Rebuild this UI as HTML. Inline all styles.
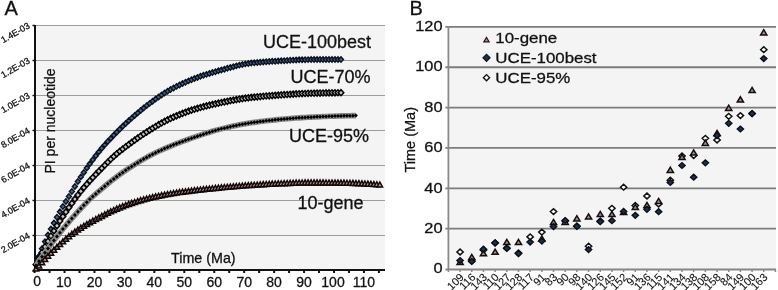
<!DOCTYPE html><html><head><meta charset="utf-8"><style>
html,body{margin:0;padding:0;background:#fff;width:778px;height:290px;overflow:hidden}
svg{display:block;will-change:transform}
text{font-family:"Liberation Sans", sans-serif;fill:#111;stroke:#111;stroke-width:0.28px}
</style></head><body>
<svg width="778" height="290" viewBox="0 0 778 290">
<rect width="778" height="290" fill="#fff"/>

<text x="4.6" y="15" font-size="20">A</text>
<rect x="35.5" y="25" width="349.5" height="245" fill="#f4f4f4"/>
<line x1="35" y1="25.5" x2="385" y2="25.5" stroke="#9c9c9c" stroke-width="1"/>
<line x1="35" y1="60.5" x2="385" y2="60.5" stroke="#9c9c9c" stroke-width="1"/>
<line x1="35" y1="95.5" x2="385" y2="95.5" stroke="#9c9c9c" stroke-width="1"/>
<line x1="35" y1="130.5" x2="385" y2="130.5" stroke="#9c9c9c" stroke-width="1"/>
<line x1="35" y1="165.5" x2="385" y2="165.5" stroke="#9c9c9c" stroke-width="1"/>
<line x1="35" y1="200.5" x2="385" y2="200.5" stroke="#9c9c9c" stroke-width="1"/>
<line x1="35" y1="235.5" x2="385" y2="235.5" stroke="#9c9c9c" stroke-width="1"/>
<line x1="35" y1="25" x2="35" y2="271" stroke="#111" stroke-width="2"/>
<line x1="32.5" y1="25.5" x2="35" y2="25.5" stroke="#111" stroke-width="1.5"/>
<line x1="32.5" y1="60.5" x2="35" y2="60.5" stroke="#111" stroke-width="1.5"/>
<line x1="32.5" y1="95.5" x2="35" y2="95.5" stroke="#111" stroke-width="1.5"/>
<line x1="32.5" y1="130.5" x2="35" y2="130.5" stroke="#111" stroke-width="1.5"/>
<line x1="32.5" y1="165.5" x2="35" y2="165.5" stroke="#111" stroke-width="1.5"/>
<line x1="32.5" y1="200.5" x2="35" y2="200.5" stroke="#111" stroke-width="1.5"/>
<line x1="32.5" y1="235.5" x2="35" y2="235.5" stroke="#111" stroke-width="1.5"/>
<line x1="32.5" y1="270.5" x2="35" y2="270.5" stroke="#111" stroke-width="1.5"/>
<line x1="34" y1="270" x2="385" y2="270" stroke="#111" stroke-width="2"/>
<line x1="34.60" y1="270" x2="34.60" y2="273" stroke="#111" stroke-width="2"/>
<line x1="49.57" y1="270" x2="49.57" y2="273" stroke="#111" stroke-width="2"/>
<line x1="64.54" y1="270" x2="64.54" y2="273" stroke="#111" stroke-width="2"/>
<line x1="79.51" y1="270" x2="79.51" y2="273" stroke="#111" stroke-width="2"/>
<line x1="94.48" y1="270" x2="94.48" y2="273" stroke="#111" stroke-width="2"/>
<line x1="109.45" y1="270" x2="109.45" y2="273" stroke="#111" stroke-width="2"/>
<line x1="124.42" y1="270" x2="124.42" y2="273" stroke="#111" stroke-width="2"/>
<line x1="139.39" y1="270" x2="139.39" y2="273" stroke="#111" stroke-width="2"/>
<line x1="154.36" y1="270" x2="154.36" y2="273" stroke="#111" stroke-width="2"/>
<line x1="169.33" y1="270" x2="169.33" y2="273" stroke="#111" stroke-width="2"/>
<line x1="184.30" y1="270" x2="184.30" y2="273" stroke="#111" stroke-width="2"/>
<line x1="199.27" y1="270" x2="199.27" y2="273" stroke="#111" stroke-width="2"/>
<line x1="214.24" y1="270" x2="214.24" y2="273" stroke="#111" stroke-width="2"/>
<line x1="229.21" y1="270" x2="229.21" y2="273" stroke="#111" stroke-width="2"/>
<line x1="244.18" y1="270" x2="244.18" y2="273" stroke="#111" stroke-width="2"/>
<line x1="259.15" y1="270" x2="259.15" y2="273" stroke="#111" stroke-width="2"/>
<line x1="274.12" y1="270" x2="274.12" y2="273" stroke="#111" stroke-width="2"/>
<line x1="289.09" y1="270" x2="289.09" y2="273" stroke="#111" stroke-width="2"/>
<line x1="304.06" y1="270" x2="304.06" y2="273" stroke="#111" stroke-width="2"/>
<line x1="319.03" y1="270" x2="319.03" y2="273" stroke="#111" stroke-width="2"/>
<line x1="334.00" y1="270" x2="334.00" y2="273" stroke="#111" stroke-width="2"/>
<line x1="348.97" y1="270" x2="348.97" y2="273" stroke="#111" stroke-width="2"/>
<line x1="363.94" y1="270" x2="363.94" y2="273" stroke="#111" stroke-width="2"/>
<line x1="378.91" y1="270" x2="378.91" y2="273" stroke="#111" stroke-width="2"/>
<text x="0" y="0" font-size="9" text-anchor="end" transform="translate(30.5 27.5) rotate(-30)">1.4E-03</text>
<text x="0" y="0" font-size="9" text-anchor="end" transform="translate(30.5 62.5) rotate(-30)">1.2E-03</text>
<text x="0" y="0" font-size="9" text-anchor="end" transform="translate(30.5 97.5) rotate(-30)">1.0E-03</text>
<text x="0" y="0" font-size="9" text-anchor="end" transform="translate(30.5 132.5) rotate(-30)">8.0E-04</text>
<text x="0" y="0" font-size="9" text-anchor="end" transform="translate(30.5 167.5) rotate(-30)">6.0E-04</text>
<text x="0" y="0" font-size="9" text-anchor="end" transform="translate(30.5 202.5) rotate(-30)">4.0E-04</text>
<text x="0" y="0" font-size="9" text-anchor="end" transform="translate(30.5 237.5) rotate(-30)">2.0E-04</text>
<text x="37.10" y="285.5" font-size="14" text-anchor="middle">0</text>
<text x="63.74" y="287" font-size="14" text-anchor="middle">10</text>
<text x="94.48" y="287" font-size="14" text-anchor="middle">20</text>
<text x="124.42" y="287" font-size="14" text-anchor="middle">30</text>
<text x="154.36" y="287" font-size="14" text-anchor="middle">40</text>
<text x="184.30" y="287" font-size="14" text-anchor="middle">50</text>
<text x="214.24" y="287" font-size="14" text-anchor="middle">60</text>
<text x="244.18" y="287" font-size="14" text-anchor="middle">70</text>
<text x="274.12" y="287" font-size="14" text-anchor="middle">80</text>
<text x="304.06" y="287" font-size="14" text-anchor="middle">90</text>
<text x="333.00" y="287" font-size="14" text-anchor="middle">100</text>
<text x="363.94" y="287" font-size="14" text-anchor="middle">110</text>
<text x="0" y="0" font-size="14" transform="translate(55 173.5) rotate(-90)">PI per nucleotide</text>
<text x="171" y="262.5" font-size="14.3">Time (Ma)</text>
<g fill="#4a6688" stroke="#0a1220" stroke-width="1.4">
<path d="M33.50 264.64L36.00 261.94L38.50 264.64L36.00 267.34Z"/>
<path d="M36.49 256.26L38.99 253.56L41.49 256.26L38.99 258.96Z"/>
<path d="M39.48 248.63L41.98 245.93L44.48 248.63L41.98 251.33Z"/>
<path d="M42.47 241.61L44.97 238.91L47.47 241.61L44.97 244.31Z"/>
<path d="M45.46 235.09L47.96 232.39L50.46 235.09L47.96 237.79Z"/>
<path d="M48.45 228.99L50.95 226.29L53.45 228.99L50.95 231.69Z"/>
<path d="M51.44 223.06L53.94 220.36L56.44 223.06L53.94 225.76Z"/>
<path d="M54.43 217.28L56.93 214.58L59.43 217.28L56.93 219.98Z"/>
<path d="M57.42 211.74L59.92 209.04L62.42 211.74L59.92 214.44Z"/>
<path d="M60.41 206.51L62.91 203.81L65.41 206.51L62.91 209.21Z"/>
<path d="M63.40 201.49L65.90 198.79L68.40 201.49L65.90 204.19Z"/>
<path d="M66.39 196.55L68.89 193.85L71.39 196.55L68.89 199.25Z"/>
<path d="M69.38 191.54L71.88 188.84L74.38 191.54L71.88 194.24Z"/>
<path d="M72.37 186.52L74.87 183.82L77.37 186.52L74.87 189.22Z"/>
<path d="M75.36 181.59L77.86 178.89L80.36 181.59L77.86 184.29Z"/>
<path d="M78.35 176.89L80.85 174.19L83.35 176.89L80.85 179.59Z"/>
<path d="M81.34 172.40L83.84 169.70L86.34 172.40L83.84 175.10Z"/>
<path d="M84.33 168.06L86.83 165.36L89.33 168.06L86.83 170.76Z"/>
<path d="M87.32 163.85L89.82 161.15L92.32 163.85L89.82 166.55Z"/>
<path d="M90.31 159.73L92.81 157.03L95.31 159.73L92.81 162.43Z"/>
<path d="M93.30 155.71L95.80 153.01L98.30 155.71L95.80 158.41Z"/>
<path d="M96.29 151.88L98.79 149.18L101.29 151.88L98.79 154.58Z"/>
<path d="M99.28 148.29L101.78 145.59L104.28 148.29L101.78 150.99Z"/>
<path d="M102.27 144.87L104.77 142.17L107.27 144.87L104.77 147.57Z"/>
<path d="M105.26 141.58L107.76 138.88L110.26 141.58L107.76 144.28Z"/>
<path d="M108.25 138.40L110.75 135.70L113.25 138.40L110.75 141.10Z"/>
<path d="M111.24 135.29L113.74 132.59L116.24 135.29L113.74 137.99Z"/>
<path d="M114.23 132.24L116.73 129.54L119.23 132.24L116.73 134.94Z"/>
<path d="M117.22 129.26L119.72 126.56L122.22 129.26L119.72 131.96Z"/>
<path d="M120.21 126.35L122.71 123.65L125.21 126.35L122.71 129.05Z"/>
<path d="M123.20 123.52L125.70 120.82L128.20 123.52L125.70 126.22Z"/>
<path d="M126.19 120.78L128.69 118.08L131.19 120.78L128.69 123.48Z"/>
<path d="M129.18 118.11L131.68 115.41L134.18 118.11L131.68 120.81Z"/>
<path d="M132.17 115.49L134.67 112.79L137.17 115.49L134.67 118.19Z"/>
<path d="M135.16 112.93L137.66 110.23L140.16 112.93L137.66 115.63Z"/>
<path d="M138.15 110.43L140.65 107.73L143.15 110.43L140.65 113.13Z"/>
<path d="M141.14 107.99L143.64 105.29L146.14 107.99L143.64 110.69Z"/>
<path d="M144.13 105.64L146.63 102.94L149.13 105.64L146.63 108.34Z"/>
<path d="M147.12 103.38L149.62 100.68L152.12 103.38L149.62 106.08Z"/>
<path d="M150.11 101.19L152.61 98.49L155.11 101.19L152.61 103.89Z"/>
<path d="M153.10 99.04L155.60 96.34L158.10 99.04L155.60 101.74Z"/>
<path d="M156.09 96.94L158.59 94.24L161.09 96.94L158.59 99.64Z"/>
<path d="M159.08 94.92L161.58 92.22L164.08 94.92L161.58 97.62Z"/>
<path d="M162.07 93.00L164.57 90.30L167.07 93.00L164.57 95.70Z"/>
<path d="M165.06 91.18L167.56 88.48L170.06 91.18L167.56 93.88Z"/>
<path d="M168.05 89.50L170.55 86.80L173.05 89.50L170.55 92.20Z"/>
<path d="M171.04 87.91L173.54 85.21L176.04 87.91L173.54 90.61Z"/>
<path d="M174.03 86.38L176.53 83.68L179.03 86.38L176.53 89.08Z"/>
<path d="M177.02 84.91L179.52 82.21L182.02 84.91L179.52 87.61Z"/>
<path d="M180.01 83.51L182.51 80.81L185.01 83.51L182.51 86.21Z"/>
<path d="M183.00 82.16L185.50 79.46L188.00 82.16L185.50 84.86Z"/>
<path d="M185.99 80.88L188.49 78.18L190.99 80.88L188.49 83.58Z"/>
<path d="M188.98 79.66L191.48 76.96L193.98 79.66L191.48 82.36Z"/>
<path d="M191.97 78.50L194.47 75.80L196.97 78.50L194.47 81.20Z"/>
<path d="M194.96 77.40L197.46 74.70L199.96 77.40L197.46 80.10Z"/>
<path d="M197.95 76.34L200.45 73.64L202.95 76.34L200.45 79.04Z"/>
<path d="M200.94 75.34L203.44 72.64L205.94 75.34L203.44 78.04Z"/>
<path d="M203.93 74.37L206.43 71.67L208.93 74.37L206.43 77.07Z"/>
<path d="M206.92 73.44L209.42 70.74L211.92 73.44L209.42 76.14Z"/>
<path d="M209.91 72.55L212.41 69.85L214.91 72.55L212.41 75.25Z"/>
<path d="M212.90 71.68L215.40 68.98L217.90 71.68L215.40 74.38Z"/>
<path d="M215.89 70.84L218.39 68.14L220.89 70.84L218.39 73.54Z"/>
<path d="M218.88 70.02L221.38 67.32L223.88 70.02L221.38 72.72Z"/>
<path d="M221.87 69.18L224.37 66.48L226.87 69.18L224.37 71.88Z"/>
<path d="M224.86 68.32L227.36 65.62L229.86 68.32L227.36 71.02Z"/>
<path d="M227.85 67.48L230.35 64.78L232.85 67.48L230.35 70.18Z"/>
<path d="M230.84 66.65L233.34 63.95L235.84 66.65L233.34 69.35Z"/>
<path d="M233.83 65.86L236.33 63.16L238.83 65.86L236.33 68.56Z"/>
<path d="M236.82 65.13L239.32 62.43L241.82 65.13L239.32 67.83Z"/>
<path d="M239.81 64.47L242.31 61.77L244.81 64.47L242.31 67.17Z"/>
<path d="M242.80 63.89L245.30 61.19L247.80 63.89L245.30 66.59Z"/>
<path d="M245.79 63.42L248.29 60.72L250.79 63.42L248.29 66.12Z"/>
<path d="M248.78 63.05L251.28 60.35L253.78 63.05L251.28 65.75Z"/>
<path d="M251.77 62.74L254.27 60.04L256.77 62.74L254.27 65.44Z"/>
<path d="M254.76 62.45L257.26 59.75L259.76 62.45L257.26 65.15Z"/>
<path d="M257.75 62.19L260.25 59.49L262.75 62.19L260.25 64.89Z"/>
<path d="M260.74 61.95L263.24 59.25L265.74 61.95L263.24 64.65Z"/>
<path d="M263.73 61.73L266.23 59.03L268.73 61.73L266.23 64.43Z"/>
<path d="M266.72 61.53L269.22 58.83L271.72 61.53L269.22 64.23Z"/>
<path d="M269.71 61.35L272.21 58.65L274.71 61.35L272.21 64.05Z"/>
<path d="M272.70 61.17L275.20 58.47L277.70 61.17L275.20 63.87Z"/>
<path d="M275.69 61.00L278.19 58.30L280.69 61.00L278.19 63.70Z"/>
<path d="M278.68 60.83L281.18 58.13L283.68 60.83L281.18 63.53Z"/>
<path d="M281.67 60.66L284.17 57.96L286.67 60.66L284.17 63.36Z"/>
<path d="M284.66 60.48L287.16 57.78L289.66 60.48L287.16 63.18Z"/>
<path d="M287.65 60.31L290.15 57.61L292.65 60.31L290.15 63.01Z"/>
<path d="M290.64 60.14L293.14 57.44L295.64 60.14L293.14 62.84Z"/>
<path d="M293.63 59.99L296.13 57.29L298.63 59.99L296.13 62.69Z"/>
<path d="M296.62 59.85L299.12 57.15L301.62 59.85L299.12 62.55Z"/>
<path d="M299.61 59.74L302.11 57.04L304.61 59.74L302.11 62.44Z"/>
<path d="M302.60 59.66L305.10 56.96L307.60 59.66L305.10 62.36Z"/>
<path d="M305.59 59.61L308.09 56.91L310.59 59.61L308.09 62.31Z"/>
<path d="M308.58 59.60L311.08 56.90L313.58 59.60L311.08 62.30Z"/>
<path d="M311.57 59.60L314.07 56.90L316.57 59.60L314.07 62.30Z"/>
<path d="M314.56 59.60L317.06 56.90L319.56 59.60L317.06 62.30Z"/>
<path d="M317.55 59.60L320.05 56.90L322.55 59.60L320.05 62.30Z"/>
<path d="M320.54 59.60L323.04 56.90L325.54 59.60L323.04 62.30Z"/>
<path d="M323.53 59.60L326.03 56.90L328.53 59.60L326.03 62.30Z"/>
<path d="M326.52 59.60L329.02 56.90L331.52 59.60L329.02 62.30Z"/>
<path d="M329.51 59.60L332.01 56.90L334.51 59.60L332.01 62.30Z"/>
<path d="M332.50 59.60L335.00 56.90L337.50 59.60L335.00 62.30Z"/>
<path d="M335.49 59.60L337.99 56.90L340.49 59.60L337.99 62.30Z"/>
<path d="M338.48 59.60L340.98 56.90L343.48 59.60L340.98 62.30Z"/>
</g>
<g fill="#c4c4c4" stroke="#000" stroke-width="1.5">
<path d="M33.20 264.50L36.00 261.50L38.80 264.50L36.00 267.50Z"/>
<path d="M36.19 258.41L38.99 255.41L41.79 258.41L38.99 261.41Z"/>
<path d="M39.18 252.49L41.98 249.49L44.78 252.49L41.98 255.49Z"/>
<path d="M42.17 246.72L44.97 243.72L47.77 246.72L44.97 249.72Z"/>
<path d="M45.16 241.24L47.96 238.24L50.76 241.24L47.96 244.24Z"/>
<path d="M48.15 236.01L50.95 233.01L53.75 236.01L50.95 239.01Z"/>
<path d="M51.14 230.88L53.94 227.88L56.74 230.88L53.94 233.88Z"/>
<path d="M54.13 225.86L56.93 222.86L59.73 225.86L56.93 228.86Z"/>
<path d="M57.12 221.03L59.92 218.03L62.72 221.03L59.92 224.03Z"/>
<path d="M60.11 216.40L62.91 213.40L65.71 216.40L62.91 219.40Z"/>
<path d="M63.10 211.94L65.90 208.94L68.70 211.94L65.90 214.94Z"/>
<path d="M66.09 207.59L68.89 204.59L71.69 207.59L68.89 210.59Z"/>
<path d="M69.08 203.32L71.88 200.32L74.68 203.32L71.88 206.32Z"/>
<path d="M72.07 199.12L74.87 196.12L77.67 199.12L74.87 202.12Z"/>
<path d="M75.06 195.07L77.86 192.07L80.66 195.07L77.86 198.07Z"/>
<path d="M78.05 191.24L80.85 188.24L83.65 191.24L80.85 194.24Z"/>
<path d="M81.04 187.62L83.84 184.62L86.64 187.62L83.84 190.62Z"/>
<path d="M84.03 184.15L86.83 181.15L89.63 184.15L86.83 187.15Z"/>
<path d="M87.02 180.80L89.82 177.80L92.62 180.80L89.82 183.80Z"/>
<path d="M90.01 177.55L92.81 174.55L95.61 177.55L92.81 180.55Z"/>
<path d="M93.00 174.41L95.80 171.41L98.60 174.41L95.80 177.41Z"/>
<path d="M95.99 171.33L98.79 168.33L101.59 171.33L98.79 174.33Z"/>
<path d="M98.98 168.28L101.78 165.28L104.58 168.28L101.78 171.28Z"/>
<path d="M101.97 165.20L104.77 162.20L107.57 165.20L104.77 168.20Z"/>
<path d="M104.96 162.16L107.76 159.16L110.56 162.16L107.76 165.16Z"/>
<path d="M107.95 159.21L110.75 156.21L113.55 159.21L110.75 162.21Z"/>
<path d="M110.94 156.42L113.74 153.42L116.54 156.42L113.74 159.42Z"/>
<path d="M113.93 153.82L116.73 150.82L119.53 153.82L116.73 156.82Z"/>
<path d="M116.92 151.37L119.72 148.37L122.52 151.37L119.72 154.37Z"/>
<path d="M119.91 149.03L122.71 146.03L125.51 149.03L122.71 152.03Z"/>
<path d="M122.90 146.77L125.70 143.77L128.50 146.77L125.70 149.77Z"/>
<path d="M125.89 144.56L128.69 141.56L131.49 144.56L128.69 147.56Z"/>
<path d="M128.88 142.37L131.68 139.37L134.48 142.37L131.68 145.37Z"/>
<path d="M131.87 140.22L134.67 137.22L137.47 140.22L134.67 143.22Z"/>
<path d="M134.86 138.09L137.66 135.09L140.46 138.09L137.66 141.09Z"/>
<path d="M137.85 136.01L140.65 133.01L143.45 136.01L140.65 139.01Z"/>
<path d="M140.84 133.99L143.64 130.99L146.44 133.99L143.64 136.99Z"/>
<path d="M143.83 132.03L146.63 129.03L149.43 132.03L146.63 135.03Z"/>
<path d="M146.82 130.13L149.62 127.13L152.42 130.13L149.62 133.13Z"/>
<path d="M149.81 128.30L152.61 125.30L155.41 128.30L152.61 131.30Z"/>
<path d="M152.80 126.49L155.60 123.49L158.40 126.49L155.60 129.49Z"/>
<path d="M155.79 124.72L158.59 121.72L161.39 124.72L158.59 127.72Z"/>
<path d="M158.78 123.01L161.58 120.01L164.38 123.01L161.58 126.01Z"/>
<path d="M161.77 121.39L164.57 118.39L167.37 121.39L164.57 124.39Z"/>
<path d="M164.76 119.86L167.56 116.86L170.36 119.86L167.56 122.86Z"/>
<path d="M167.75 118.45L170.55 115.45L173.35 118.45L170.55 121.45Z"/>
<path d="M170.74 117.11L173.54 114.11L176.34 117.11L173.54 120.11Z"/>
<path d="M173.73 115.83L176.53 112.83L179.33 115.83L176.53 118.83Z"/>
<path d="M176.72 114.59L179.52 111.59L182.32 114.59L179.52 117.59Z"/>
<path d="M179.71 113.41L182.51 110.41L185.31 113.41L182.51 116.41Z"/>
<path d="M182.70 112.29L185.50 109.29L188.30 112.29L185.50 115.29Z"/>
<path d="M185.69 111.22L188.49 108.22L191.29 111.22L188.49 114.22Z"/>
<path d="M188.68 110.21L191.48 107.21L194.28 110.21L191.48 113.21Z"/>
<path d="M191.67 109.26L194.47 106.26L197.27 109.26L194.47 112.26Z"/>
<path d="M194.66 108.37L197.46 105.37L200.26 108.37L197.46 111.37Z"/>
<path d="M197.65 107.51L200.45 104.51L203.25 107.51L200.45 110.51Z"/>
<path d="M200.64 106.69L203.44 103.69L206.24 106.69L203.44 109.69Z"/>
<path d="M203.63 105.91L206.43 102.91L209.23 105.91L206.43 108.91Z"/>
<path d="M206.62 105.17L209.42 102.17L212.22 105.17L209.42 108.17Z"/>
<path d="M209.61 104.46L212.41 101.46L215.21 104.46L212.41 107.46Z"/>
<path d="M212.60 103.78L215.40 100.78L218.20 103.78L215.40 106.78Z"/>
<path d="M215.59 103.14L218.39 100.14L221.19 103.14L218.39 106.14Z"/>
<path d="M218.58 102.52L221.38 99.52L224.18 102.52L221.38 105.52Z"/>
<path d="M221.57 101.91L224.37 98.91L227.17 101.91L224.37 104.91Z"/>
<path d="M224.56 101.31L227.36 98.31L230.16 101.31L227.36 104.31Z"/>
<path d="M227.55 100.72L230.35 97.72L233.15 100.72L230.35 103.72Z"/>
<path d="M230.54 100.16L233.34 97.16L236.14 100.16L233.34 103.16Z"/>
<path d="M233.53 99.62L236.33 96.62L239.13 99.62L236.33 102.62Z"/>
<path d="M236.52 99.11L239.32 96.11L242.12 99.11L239.32 102.11Z"/>
<path d="M239.51 98.64L242.31 95.64L245.11 98.64L242.31 101.64Z"/>
<path d="M242.50 98.20L245.30 95.20L248.10 98.20L245.30 101.20Z"/>
<path d="M245.49 97.81L248.29 94.81L251.09 97.81L248.29 100.81Z"/>
<path d="M248.48 97.45L251.28 94.45L254.08 97.45L251.28 100.45Z"/>
<path d="M251.47 97.13L254.27 94.13L257.07 97.13L254.27 100.13Z"/>
<path d="M254.46 96.83L257.26 93.83L260.06 96.83L257.26 99.83Z"/>
<path d="M257.45 96.54L260.25 93.54L263.05 96.54L260.25 99.54Z"/>
<path d="M260.44 96.27L263.24 93.27L266.04 96.27L263.24 99.27Z"/>
<path d="M263.43 96.02L266.23 93.02L269.03 96.02L266.23 99.02Z"/>
<path d="M266.42 95.78L269.22 92.78L272.02 95.78L269.22 98.78Z"/>
<path d="M269.41 95.55L272.21 92.55L275.01 95.55L272.21 98.55Z"/>
<path d="M272.40 95.34L275.20 92.34L278.00 95.34L275.20 98.34Z"/>
<path d="M275.39 95.12L278.19 92.12L280.99 95.12L278.19 98.12Z"/>
<path d="M278.38 94.92L281.18 91.92L283.98 94.92L281.18 97.92Z"/>
<path d="M281.37 94.71L284.17 91.71L286.97 94.71L284.17 97.71Z"/>
<path d="M284.36 94.51L287.16 91.51L289.96 94.51L287.16 97.51Z"/>
<path d="M287.35 94.31L290.15 91.31L292.95 94.31L290.15 97.31Z"/>
<path d="M290.34 94.12L293.14 91.12L295.94 94.12L293.14 97.12Z"/>
<path d="M293.33 93.94L296.13 90.94L298.93 93.94L296.13 96.94Z"/>
<path d="M296.32 93.77L299.12 90.77L301.92 93.77L299.12 96.77Z"/>
<path d="M299.31 93.61L302.11 90.61L304.91 93.61L302.11 96.61Z"/>
<path d="M302.30 93.48L305.10 90.48L307.90 93.48L305.10 96.48Z"/>
<path d="M305.29 93.36L308.09 90.36L310.89 93.36L308.09 96.36Z"/>
<path d="M308.28 93.27L311.08 90.27L313.88 93.27L311.08 96.27Z"/>
<path d="M311.27 93.19L314.07 90.19L316.87 93.19L314.07 96.19Z"/>
<path d="M314.26 93.11L317.06 90.11L319.86 93.11L317.06 96.11Z"/>
<path d="M317.25 93.05L320.05 90.05L322.85 93.05L320.05 96.05Z"/>
<path d="M320.24 92.99L323.04 89.99L325.84 92.99L323.04 95.99Z"/>
<path d="M323.23 92.93L326.03 89.93L328.83 92.93L326.03 95.93Z"/>
<path d="M326.22 92.88L329.02 89.88L331.82 92.88L329.02 95.88Z"/>
<path d="M329.21 92.83L332.01 89.83L334.81 92.83L332.01 95.83Z"/>
<path d="M332.20 92.78L335.00 89.78L337.80 92.78L335.00 95.78Z"/>
<path d="M335.19 92.73L337.99 89.73L340.79 92.73L337.99 95.73Z"/>
<path d="M338.18 92.68L340.98 89.68L343.78 92.68L340.98 95.68Z"/>
</g>
<polyline fill="none" stroke="#8a8a8a" stroke-width="5.6" stroke-linejoin="round" points="36.00,265.59 38.99,261.17 41.98,256.86 44.97,252.64 47.96,248.49 50.95,244.41 53.94,240.42 56.93,236.51 59.92,232.70 62.91,229.01 65.90,225.41 68.89,221.89 71.88,218.43 74.87,215.04 77.86,211.72 80.85,208.49 83.84,205.31 86.83,202.22 89.82,199.27 92.81,196.51 95.80,193.88 98.79,191.33 101.78,188.79 104.77,186.25 107.76,183.76 110.75,181.32 113.74,178.96 116.73,176.70 119.72,174.52 122.71,172.40 125.70,170.34 128.69,168.35 131.68,166.42 134.67,164.52 137.66,162.66 140.65,160.85 143.64,159.10 146.63,157.41 149.62,155.80 152.61,154.26 155.60,152.77 158.59,151.34 161.58,149.96 164.57,148.62 167.56,147.33 170.55,146.07 173.54,144.86 176.53,143.68 179.52,142.53 182.51,141.41 185.50,140.32 188.49,139.25 191.48,138.21 194.47,137.18 197.46,136.16 200.45,135.15 203.44,134.15 206.43,133.17 209.42,132.21 212.41,131.30 215.40,130.43 218.39,129.61 221.38,128.86 224.37,128.13 227.36,127.42 230.35,126.74 233.34,126.08 236.33,125.46 239.32,124.86 242.31,124.29 245.30,123.76 248.29,123.27 251.28,122.81 254.27,122.37 257.26,121.96 260.25,121.56 263.24,121.19 266.23,120.83 269.22,120.49 272.21,120.16 275.20,119.86 278.19,119.57 281.18,119.29 284.17,119.03 287.16,118.77 290.15,118.53 293.14,118.29 296.13,118.07 299.12,117.86 302.11,117.66 305.10,117.47 308.09,117.30 311.08,117.14 314.07,116.99 317.06,116.85 320.05,116.71 323.04,116.57 326.03,116.44 329.02,116.32 332.01,116.21 335.00,116.10 337.99,116.00 340.98,115.91 343.97,115.83 346.96,115.75 349.95,115.69 352.94,115.63 355.93,115.58"/>
<g fill="#000">
<path d="M34.10 265.59L36.00 263.59L37.90 265.59L36.00 267.59Z"/>
<path d="M37.09 261.17L38.99 259.17L40.89 261.17L38.99 263.17Z"/>
<path d="M40.08 256.86L41.98 254.86L43.88 256.86L41.98 258.86Z"/>
<path d="M43.07 252.64L44.97 250.64L46.87 252.64L44.97 254.64Z"/>
<path d="M46.06 248.49L47.96 246.49L49.86 248.49L47.96 250.49Z"/>
<path d="M49.05 244.41L50.95 242.41L52.85 244.41L50.95 246.41Z"/>
<path d="M52.04 240.42L53.94 238.42L55.84 240.42L53.94 242.42Z"/>
<path d="M55.03 236.51L56.93 234.51L58.83 236.51L56.93 238.51Z"/>
<path d="M58.02 232.70L59.92 230.70L61.82 232.70L59.92 234.70Z"/>
<path d="M61.01 229.01L62.91 227.01L64.81 229.01L62.91 231.01Z"/>
<path d="M64.00 225.41L65.90 223.41L67.80 225.41L65.90 227.41Z"/>
<path d="M66.99 221.89L68.89 219.89L70.79 221.89L68.89 223.89Z"/>
<path d="M69.98 218.43L71.88 216.43L73.78 218.43L71.88 220.43Z"/>
<path d="M72.97 215.04L74.87 213.04L76.77 215.04L74.87 217.04Z"/>
<path d="M75.96 211.72L77.86 209.72L79.76 211.72L77.86 213.72Z"/>
<path d="M78.95 208.49L80.85 206.49L82.75 208.49L80.85 210.49Z"/>
<path d="M81.94 205.31L83.84 203.31L85.74 205.31L83.84 207.31Z"/>
<path d="M84.93 202.22L86.83 200.22L88.73 202.22L86.83 204.22Z"/>
<path d="M87.92 199.27L89.82 197.27L91.72 199.27L89.82 201.27Z"/>
<path d="M90.91 196.51L92.81 194.51L94.71 196.51L92.81 198.51Z"/>
<path d="M93.90 193.88L95.80 191.88L97.70 193.88L95.80 195.88Z"/>
<path d="M96.89 191.33L98.79 189.33L100.69 191.33L98.79 193.33Z"/>
<path d="M99.88 188.79L101.78 186.79L103.68 188.79L101.78 190.79Z"/>
<path d="M102.87 186.25L104.77 184.25L106.67 186.25L104.77 188.25Z"/>
<path d="M105.86 183.76L107.76 181.76L109.66 183.76L107.76 185.76Z"/>
<path d="M108.85 181.32L110.75 179.32L112.65 181.32L110.75 183.32Z"/>
<path d="M111.84 178.96L113.74 176.96L115.64 178.96L113.74 180.96Z"/>
<path d="M114.83 176.70L116.73 174.70L118.63 176.70L116.73 178.70Z"/>
<path d="M117.82 174.52L119.72 172.52L121.62 174.52L119.72 176.52Z"/>
<path d="M120.81 172.40L122.71 170.40L124.61 172.40L122.71 174.40Z"/>
<path d="M123.80 170.34L125.70 168.34L127.60 170.34L125.70 172.34Z"/>
<path d="M126.79 168.35L128.69 166.35L130.59 168.35L128.69 170.35Z"/>
<path d="M129.78 166.42L131.68 164.42L133.58 166.42L131.68 168.42Z"/>
<path d="M132.77 164.52L134.67 162.52L136.57 164.52L134.67 166.52Z"/>
<path d="M135.76 162.66L137.66 160.66L139.56 162.66L137.66 164.66Z"/>
<path d="M138.75 160.85L140.65 158.85L142.55 160.85L140.65 162.85Z"/>
<path d="M141.74 159.10L143.64 157.10L145.54 159.10L143.64 161.10Z"/>
<path d="M144.73 157.41L146.63 155.41L148.53 157.41L146.63 159.41Z"/>
<path d="M147.72 155.80L149.62 153.80L151.52 155.80L149.62 157.80Z"/>
<path d="M150.71 154.26L152.61 152.26L154.51 154.26L152.61 156.26Z"/>
<path d="M153.70 152.77L155.60 150.77L157.50 152.77L155.60 154.77Z"/>
<path d="M156.69 151.34L158.59 149.34L160.49 151.34L158.59 153.34Z"/>
<path d="M159.68 149.96L161.58 147.96L163.48 149.96L161.58 151.96Z"/>
<path d="M162.67 148.62L164.57 146.62L166.47 148.62L164.57 150.62Z"/>
<path d="M165.66 147.33L167.56 145.33L169.46 147.33L167.56 149.33Z"/>
<path d="M168.65 146.07L170.55 144.07L172.45 146.07L170.55 148.07Z"/>
<path d="M171.64 144.86L173.54 142.86L175.44 144.86L173.54 146.86Z"/>
<path d="M174.63 143.68L176.53 141.68L178.43 143.68L176.53 145.68Z"/>
<path d="M177.62 142.53L179.52 140.53L181.42 142.53L179.52 144.53Z"/>
<path d="M180.61 141.41L182.51 139.41L184.41 141.41L182.51 143.41Z"/>
<path d="M183.60 140.32L185.50 138.32L187.40 140.32L185.50 142.32Z"/>
<path d="M186.59 139.25L188.49 137.25L190.39 139.25L188.49 141.25Z"/>
<path d="M189.58 138.21L191.48 136.21L193.38 138.21L191.48 140.21Z"/>
<path d="M192.57 137.18L194.47 135.18L196.37 137.18L194.47 139.18Z"/>
<path d="M195.56 136.16L197.46 134.16L199.36 136.16L197.46 138.16Z"/>
<path d="M198.55 135.15L200.45 133.15L202.35 135.15L200.45 137.15Z"/>
<path d="M201.54 134.15L203.44 132.15L205.34 134.15L203.44 136.15Z"/>
<path d="M204.53 133.17L206.43 131.17L208.33 133.17L206.43 135.17Z"/>
<path d="M207.52 132.21L209.42 130.21L211.32 132.21L209.42 134.21Z"/>
<path d="M210.51 131.30L212.41 129.30L214.31 131.30L212.41 133.30Z"/>
<path d="M213.50 130.43L215.40 128.43L217.30 130.43L215.40 132.43Z"/>
<path d="M216.49 129.61L218.39 127.61L220.29 129.61L218.39 131.61Z"/>
<path d="M219.48 128.86L221.38 126.86L223.28 128.86L221.38 130.86Z"/>
<path d="M222.47 128.13L224.37 126.13L226.27 128.13L224.37 130.13Z"/>
<path d="M225.46 127.42L227.36 125.42L229.26 127.42L227.36 129.42Z"/>
<path d="M228.45 126.74L230.35 124.74L232.25 126.74L230.35 128.74Z"/>
<path d="M231.44 126.08L233.34 124.08L235.24 126.08L233.34 128.08Z"/>
<path d="M234.43 125.46L236.33 123.46L238.23 125.46L236.33 127.46Z"/>
<path d="M237.42 124.86L239.32 122.86L241.22 124.86L239.32 126.86Z"/>
<path d="M240.41 124.29L242.31 122.29L244.21 124.29L242.31 126.29Z"/>
<path d="M243.40 123.76L245.30 121.76L247.20 123.76L245.30 125.76Z"/>
<path d="M246.39 123.27L248.29 121.27L250.19 123.27L248.29 125.27Z"/>
<path d="M249.38 122.81L251.28 120.81L253.18 122.81L251.28 124.81Z"/>
<path d="M252.37 122.37L254.27 120.37L256.17 122.37L254.27 124.37Z"/>
<path d="M255.36 121.96L257.26 119.96L259.16 121.96L257.26 123.96Z"/>
<path d="M258.35 121.56L260.25 119.56L262.15 121.56L260.25 123.56Z"/>
<path d="M261.34 121.19L263.24 119.19L265.14 121.19L263.24 123.19Z"/>
<path d="M264.33 120.83L266.23 118.83L268.13 120.83L266.23 122.83Z"/>
<path d="M267.32 120.49L269.22 118.49L271.12 120.49L269.22 122.49Z"/>
<path d="M270.31 120.16L272.21 118.16L274.11 120.16L272.21 122.16Z"/>
<path d="M273.30 119.86L275.20 117.86L277.10 119.86L275.20 121.86Z"/>
<path d="M276.29 119.57L278.19 117.57L280.09 119.57L278.19 121.57Z"/>
<path d="M279.28 119.29L281.18 117.29L283.08 119.29L281.18 121.29Z"/>
<path d="M282.27 119.03L284.17 117.03L286.07 119.03L284.17 121.03Z"/>
<path d="M285.26 118.77L287.16 116.77L289.06 118.77L287.16 120.77Z"/>
<path d="M288.25 118.53L290.15 116.53L292.05 118.53L290.15 120.53Z"/>
<path d="M291.24 118.29L293.14 116.29L295.04 118.29L293.14 120.29Z"/>
<path d="M294.23 118.07L296.13 116.07L298.03 118.07L296.13 120.07Z"/>
<path d="M297.22 117.86L299.12 115.86L301.02 117.86L299.12 119.86Z"/>
<path d="M300.21 117.66L302.11 115.66L304.01 117.66L302.11 119.66Z"/>
<path d="M303.20 117.47L305.10 115.47L307.00 117.47L305.10 119.47Z"/>
<path d="M306.19 117.30L308.09 115.30L309.99 117.30L308.09 119.30Z"/>
<path d="M309.18 117.14L311.08 115.14L312.98 117.14L311.08 119.14Z"/>
<path d="M312.17 116.99L314.07 114.99L315.97 116.99L314.07 118.99Z"/>
<path d="M315.16 116.85L317.06 114.85L318.96 116.85L317.06 118.85Z"/>
<path d="M318.15 116.71L320.05 114.71L321.95 116.71L320.05 118.71Z"/>
<path d="M321.14 116.57L323.04 114.57L324.94 116.57L323.04 118.57Z"/>
<path d="M324.13 116.44L326.03 114.44L327.93 116.44L326.03 118.44Z"/>
<path d="M327.12 116.32L329.02 114.32L330.92 116.32L329.02 118.32Z"/>
<path d="M330.11 116.21L332.01 114.21L333.91 116.21L332.01 118.21Z"/>
<path d="M333.10 116.10L335.00 114.10L336.90 116.10L335.00 118.10Z"/>
<path d="M336.09 116.00L337.99 114.00L339.89 116.00L337.99 118.00Z"/>
<path d="M339.08 115.91L340.98 113.91L342.88 115.91L340.98 117.91Z"/>
<path d="M342.07 115.83L343.97 113.83L345.87 115.83L343.97 117.83Z"/>
<path d="M345.06 115.75L346.96 113.75L348.86 115.75L346.96 117.75Z"/>
<path d="M348.05 115.69L349.95 113.69L351.85 115.69L349.95 117.69Z"/>
<path d="M351.04 115.63L352.94 113.63L354.84 115.63L352.94 117.63Z"/>
<path d="M354.03 115.58L355.93 113.58L357.83 115.58L355.93 117.58Z"/>
</g>
<g fill="#c09894" stroke="#100808" stroke-width="1.5" stroke-linejoin="miter">
<path d="M33.30 271.08L36.00 266.08L38.70 271.08Z"/>
<path d="M36.29 267.97L38.99 262.97L41.69 267.97Z"/>
<path d="M39.28 264.74L41.98 259.74L44.68 264.74Z"/>
<path d="M42.27 261.41L44.97 256.41L47.67 261.41Z"/>
<path d="M45.26 258.23L47.96 253.23L50.66 258.23Z"/>
<path d="M48.25 255.16L50.95 250.16L53.65 255.16Z"/>
<path d="M51.24 252.17L53.94 247.17L56.64 252.17Z"/>
<path d="M54.23 249.27L56.93 244.27L59.63 249.27Z"/>
<path d="M57.22 246.47L59.92 241.47L62.62 246.47Z"/>
<path d="M60.21 243.77L62.91 238.77L65.61 243.77Z"/>
<path d="M63.20 241.16L65.90 236.16L68.60 241.16Z"/>
<path d="M66.19 238.68L68.89 233.68L71.59 238.68Z"/>
<path d="M69.18 236.36L71.88 231.36L74.58 236.36Z"/>
<path d="M72.17 234.18L74.87 229.18L77.57 234.18Z"/>
<path d="M75.16 232.12L77.86 227.12L80.56 232.12Z"/>
<path d="M78.15 230.15L80.85 225.15L83.55 230.15Z"/>
<path d="M81.14 228.29L83.84 223.29L86.54 228.29Z"/>
<path d="M84.13 226.52L86.83 221.52L89.53 226.52Z"/>
<path d="M87.12 224.80L89.82 219.80L92.52 224.80Z"/>
<path d="M90.11 223.13L92.81 218.13L95.51 223.13Z"/>
<path d="M93.10 221.51L95.80 216.51L98.50 221.51Z"/>
<path d="M96.09 219.93L98.79 214.93L101.49 219.93Z"/>
<path d="M99.08 218.38L101.78 213.38L104.48 218.38Z"/>
<path d="M102.07 216.84L104.77 211.84L107.47 216.84Z"/>
<path d="M105.06 215.32L107.76 210.32L110.46 215.32Z"/>
<path d="M108.05 213.85L110.75 208.85L113.45 213.85Z"/>
<path d="M111.04 212.46L113.74 207.46L116.44 212.46Z"/>
<path d="M114.03 211.15L116.73 206.15L119.43 211.15Z"/>
<path d="M117.02 209.89L119.72 204.89L122.42 209.89Z"/>
<path d="M120.01 208.68L122.71 203.68L125.41 208.68Z"/>
<path d="M123.00 207.53L125.70 202.53L128.40 207.53Z"/>
<path d="M125.99 206.45L128.69 201.45L131.39 206.45Z"/>
<path d="M128.98 205.44L131.68 200.44L134.38 205.44Z"/>
<path d="M131.97 204.48L134.67 199.48L137.37 204.48Z"/>
<path d="M134.96 203.55L137.66 198.55L140.36 203.55Z"/>
<path d="M137.95 202.67L140.65 197.67L143.35 202.67Z"/>
<path d="M140.94 201.83L143.64 196.83L146.34 201.83Z"/>
<path d="M143.93 201.04L146.63 196.04L149.33 201.04Z"/>
<path d="M146.92 200.29L149.62 195.29L152.32 200.29Z"/>
<path d="M149.91 199.58L152.61 194.58L155.31 199.58Z"/>
<path d="M152.90 198.91L155.60 193.91L158.30 198.91Z"/>
<path d="M155.89 198.26L158.59 193.26L161.29 198.26Z"/>
<path d="M158.88 197.65L161.58 192.65L164.28 197.65Z"/>
<path d="M161.87 197.07L164.57 192.07L167.27 197.07Z"/>
<path d="M164.86 196.52L167.56 191.52L170.26 196.52Z"/>
<path d="M167.85 196.01L170.55 191.01L173.25 196.01Z"/>
<path d="M170.84 195.52L173.54 190.52L176.24 195.52Z"/>
<path d="M173.83 195.06L176.53 190.06L179.23 195.06Z"/>
<path d="M176.82 194.62L179.52 189.62L182.22 194.62Z"/>
<path d="M179.81 194.20L182.51 189.20L185.21 194.20Z"/>
<path d="M182.80 193.79L185.50 188.79L188.20 193.79Z"/>
<path d="M185.79 193.40L188.49 188.40L191.19 193.40Z"/>
<path d="M188.78 193.03L191.48 188.03L194.18 193.03Z"/>
<path d="M191.77 192.66L194.47 187.66L197.17 192.66Z"/>
<path d="M194.76 192.31L197.46 187.31L200.16 192.31Z"/>
<path d="M197.75 191.97L200.45 186.97L203.15 191.97Z"/>
<path d="M200.74 191.64L203.44 186.64L206.14 191.64Z"/>
<path d="M203.73 191.33L206.43 186.33L209.13 191.33Z"/>
<path d="M206.72 191.02L209.42 186.02L212.12 191.02Z"/>
<path d="M209.71 190.72L212.41 185.72L215.11 190.72Z"/>
<path d="M212.70 190.43L215.40 185.43L218.10 190.43Z"/>
<path d="M215.69 190.15L218.39 185.15L221.09 190.15Z"/>
<path d="M218.68 189.87L221.38 184.87L224.08 189.87Z"/>
<path d="M221.67 189.60L224.37 184.60L227.07 189.60Z"/>
<path d="M224.66 189.33L227.36 184.33L230.06 189.33Z"/>
<path d="M227.65 189.06L230.35 184.06L233.05 189.06Z"/>
<path d="M230.64 188.80L233.34 183.80L236.04 188.80Z"/>
<path d="M233.63 188.54L236.33 183.54L239.03 188.54Z"/>
<path d="M236.62 188.30L239.32 183.30L242.02 188.30Z"/>
<path d="M239.61 188.06L242.31 183.06L245.01 188.06Z"/>
<path d="M242.60 187.83L245.30 182.83L248.00 187.83Z"/>
<path d="M245.59 187.62L248.29 182.62L250.99 187.62Z"/>
<path d="M248.58 187.41L251.28 182.41L253.98 187.41Z"/>
<path d="M251.57 187.22L254.27 182.22L256.97 187.22Z"/>
<path d="M254.56 187.02L257.26 182.02L259.96 187.02Z"/>
<path d="M257.55 186.83L260.25 181.83L262.95 186.83Z"/>
<path d="M260.54 186.65L263.24 181.65L265.94 186.65Z"/>
<path d="M263.53 186.47L266.23 181.47L268.93 186.47Z"/>
<path d="M266.52 186.31L269.22 181.31L271.92 186.31Z"/>
<path d="M269.51 186.15L272.21 181.15L274.91 186.15Z"/>
<path d="M272.50 186.01L275.20 181.01L277.90 186.01Z"/>
<path d="M275.49 185.87L278.19 180.87L280.89 185.87Z"/>
<path d="M278.48 185.75L281.18 180.75L283.88 185.75Z"/>
<path d="M281.47 185.63L284.17 180.63L286.87 185.63Z"/>
<path d="M284.46 185.51L287.16 180.51L289.86 185.51Z"/>
<path d="M287.45 185.39L290.15 180.39L292.85 185.39Z"/>
<path d="M290.44 185.27L293.14 180.27L295.84 185.27Z"/>
<path d="M293.43 185.16L296.13 180.16L298.83 185.16Z"/>
<path d="M296.42 185.07L299.12 180.07L301.82 185.07Z"/>
<path d="M299.41 184.99L302.11 179.99L304.81 184.99Z"/>
<path d="M302.40 184.94L305.10 179.94L307.80 184.94Z"/>
<path d="M305.39 184.91L308.09 179.91L310.79 184.91Z"/>
<path d="M308.38 184.90L311.08 179.90L313.78 184.90Z"/>
<path d="M311.37 184.91L314.07 179.91L316.77 184.91Z"/>
<path d="M314.36 184.91L317.06 179.91L319.76 184.91Z"/>
<path d="M317.35 184.93L320.05 179.93L322.75 184.93Z"/>
<path d="M320.34 184.95L323.04 179.95L325.74 184.95Z"/>
<path d="M323.33 184.97L326.03 179.97L328.73 184.97Z"/>
<path d="M326.32 185.00L329.02 180.00L331.72 185.00Z"/>
<path d="M329.31 185.03L332.01 180.03L334.71 185.03Z"/>
<path d="M332.30 185.06L335.00 180.06L337.70 185.06Z"/>
<path d="M335.29 185.10L337.99 180.10L340.69 185.10Z"/>
<path d="M338.28 185.14L340.98 180.14L343.68 185.14Z"/>
<path d="M341.27 185.18L343.97 180.18L346.67 185.18Z"/>
<path d="M344.26 185.24L346.96 180.24L349.66 185.24Z"/>
<path d="M347.25 185.32L349.95 180.32L352.65 185.32Z"/>
<path d="M350.24 185.42L352.94 180.42L355.64 185.42Z"/>
<path d="M353.23 185.54L355.93 180.54L358.63 185.54Z"/>
<path d="M356.22 185.66L358.92 180.66L361.62 185.66Z"/>
<path d="M359.21 185.81L361.91 180.81L364.61 185.81Z"/>
<path d="M362.20 185.96L364.90 180.96L367.60 185.96Z"/>
<path d="M365.19 186.13L367.89 181.13L370.59 186.13Z"/>
<path d="M368.18 186.32L370.88 181.32L373.58 186.32Z"/>
<path d="M371.17 186.52L373.87 181.52L376.57 186.52Z"/>
<path d="M374.16 186.74L376.86 181.74L379.56 186.74Z"/>
<path d="M377.15 186.97L379.85 181.97L382.55 186.97Z"/>
</g>
<text x="263" y="48" font-size="18">UCE-100best</text>
<text x="290.5" y="83" font-size="18">UCE-70%</text>
<text x="289" y="142.3" font-size="18">UCE-95%</text>
<text x="297.5" y="208.6" font-size="18">10-gene</text>
<text x="409.6" y="15" font-size="20">B</text>
<rect x="449.4" y="26.8" width="326.6" height="242.2" fill="#f4f4f4"/>
<line x1="445.4" y1="228.65" x2="776" y2="228.65" stroke="#7c7c7c" stroke-width="1.8"/>
<line x1="445.4" y1="188.30" x2="776" y2="188.30" stroke="#7c7c7c" stroke-width="1.8"/>
<line x1="445.4" y1="147.95" x2="776" y2="147.95" stroke="#7c7c7c" stroke-width="1.8"/>
<line x1="445.4" y1="107.60" x2="776" y2="107.60" stroke="#7c7c7c" stroke-width="1.8"/>
<line x1="445.4" y1="67.25" x2="776" y2="67.25" stroke="#7c7c7c" stroke-width="1.8"/>
<line x1="445.4" y1="26.90" x2="776" y2="26.90" stroke="#7c7c7c" stroke-width="1.8"/>
<line x1="448.4" y1="26" x2="448.4" y2="270.0" stroke="#8a8a8a" stroke-width="1.8"/>
<line x1="445.4" y1="269.5" x2="776" y2="269.5" stroke="#858585" stroke-width="1.8"/>
<line x1="448.40" y1="269.0" x2="448.40" y2="272.0" stroke="#8a8a8a" stroke-width="1.5"/>
<line x1="460.08" y1="269.0" x2="460.08" y2="272.0" stroke="#8a8a8a" stroke-width="1.5"/>
<line x1="471.76" y1="269.0" x2="471.76" y2="272.0" stroke="#8a8a8a" stroke-width="1.5"/>
<line x1="483.44" y1="269.0" x2="483.44" y2="272.0" stroke="#8a8a8a" stroke-width="1.5"/>
<line x1="495.12" y1="269.0" x2="495.12" y2="272.0" stroke="#8a8a8a" stroke-width="1.5"/>
<line x1="506.80" y1="269.0" x2="506.80" y2="272.0" stroke="#8a8a8a" stroke-width="1.5"/>
<line x1="518.48" y1="269.0" x2="518.48" y2="272.0" stroke="#8a8a8a" stroke-width="1.5"/>
<line x1="530.16" y1="269.0" x2="530.16" y2="272.0" stroke="#8a8a8a" stroke-width="1.5"/>
<line x1="541.84" y1="269.0" x2="541.84" y2="272.0" stroke="#8a8a8a" stroke-width="1.5"/>
<line x1="553.52" y1="269.0" x2="553.52" y2="272.0" stroke="#8a8a8a" stroke-width="1.5"/>
<line x1="565.20" y1="269.0" x2="565.20" y2="272.0" stroke="#8a8a8a" stroke-width="1.5"/>
<line x1="576.88" y1="269.0" x2="576.88" y2="272.0" stroke="#8a8a8a" stroke-width="1.5"/>
<line x1="588.56" y1="269.0" x2="588.56" y2="272.0" stroke="#8a8a8a" stroke-width="1.5"/>
<line x1="600.24" y1="269.0" x2="600.24" y2="272.0" stroke="#8a8a8a" stroke-width="1.5"/>
<line x1="611.92" y1="269.0" x2="611.92" y2="272.0" stroke="#8a8a8a" stroke-width="1.5"/>
<line x1="623.60" y1="269.0" x2="623.60" y2="272.0" stroke="#8a8a8a" stroke-width="1.5"/>
<line x1="635.28" y1="269.0" x2="635.28" y2="272.0" stroke="#8a8a8a" stroke-width="1.5"/>
<line x1="646.96" y1="269.0" x2="646.96" y2="272.0" stroke="#8a8a8a" stroke-width="1.5"/>
<line x1="658.64" y1="269.0" x2="658.64" y2="272.0" stroke="#8a8a8a" stroke-width="1.5"/>
<line x1="670.32" y1="269.0" x2="670.32" y2="272.0" stroke="#8a8a8a" stroke-width="1.5"/>
<line x1="682.00" y1="269.0" x2="682.00" y2="272.0" stroke="#8a8a8a" stroke-width="1.5"/>
<line x1="693.68" y1="269.0" x2="693.68" y2="272.0" stroke="#8a8a8a" stroke-width="1.5"/>
<line x1="705.36" y1="269.0" x2="705.36" y2="272.0" stroke="#8a8a8a" stroke-width="1.5"/>
<line x1="717.04" y1="269.0" x2="717.04" y2="272.0" stroke="#8a8a8a" stroke-width="1.5"/>
<line x1="728.72" y1="269.0" x2="728.72" y2="272.0" stroke="#8a8a8a" stroke-width="1.5"/>
<line x1="740.40" y1="269.0" x2="740.40" y2="272.0" stroke="#8a8a8a" stroke-width="1.5"/>
<line x1="752.08" y1="269.0" x2="752.08" y2="272.0" stroke="#8a8a8a" stroke-width="1.5"/>
<line x1="763.76" y1="269.0" x2="763.76" y2="272.0" stroke="#8a8a8a" stroke-width="1.5"/>
<line x1="775.44" y1="269.0" x2="775.44" y2="272.0" stroke="#8a8a8a" stroke-width="1.5"/>
<text x="0" y="0" font-size="14" text-anchor="end" transform="translate(442.5 273.20) scale(1.17 1)">0</text>
<text x="0" y="0" font-size="14" text-anchor="end" transform="translate(442.5 232.85) scale(1.17 1)">20</text>
<text x="0" y="0" font-size="14" text-anchor="end" transform="translate(442.5 192.50) scale(1.17 1)">40</text>
<text x="0" y="0" font-size="14" text-anchor="end" transform="translate(442.5 152.15) scale(1.17 1)">60</text>
<text x="0" y="0" font-size="14" text-anchor="end" transform="translate(442.5 111.80) scale(1.17 1)">80</text>
<text x="0" y="0" font-size="14" text-anchor="end" transform="translate(442.5 71.45) scale(1.17 1)">100</text>
<text x="0" y="0" font-size="14" text-anchor="end" transform="translate(442.5 31.10) scale(1.17 1)">120</text>
<text x="0" y="0" font-size="14.5" transform="translate(415 172.5) rotate(-90)">Time (Ma)</text>
<text x="0" y="0" font-size="11" style="stroke-width:0.1px" text-anchor="end" transform="translate(464.58 277.80) rotate(-45)">109</text>
<text x="0" y="0" font-size="11" style="stroke-width:0.1px" text-anchor="end" transform="translate(476.26 277.80) rotate(-45)">116</text>
<text x="0" y="0" font-size="11" style="stroke-width:0.1px" text-anchor="end" transform="translate(487.94 277.80) rotate(-45)">143</text>
<text x="0" y="0" font-size="11" style="stroke-width:0.1px" text-anchor="end" transform="translate(499.62 277.80) rotate(-45)">110</text>
<text x="0" y="0" font-size="11" style="stroke-width:0.1px" text-anchor="end" transform="translate(511.30 277.80) rotate(-45)">127</text>
<text x="0" y="0" font-size="11" style="stroke-width:0.1px" text-anchor="end" transform="translate(522.98 277.80) rotate(-45)">128</text>
<text x="0" y="0" font-size="11" style="stroke-width:0.1px" text-anchor="end" transform="translate(534.66 277.80) rotate(-45)">117</text>
<text x="0" y="0" font-size="11" style="stroke-width:0.1px" text-anchor="end" transform="translate(546.34 277.80) rotate(-45)">91</text>
<text x="0" y="0" font-size="11" style="stroke-width:0.1px" text-anchor="end" transform="translate(558.02 277.80) rotate(-45)">83</text>
<text x="0" y="0" font-size="11" style="stroke-width:0.1px" text-anchor="end" transform="translate(569.70 277.80) rotate(-45)">90</text>
<text x="0" y="0" font-size="11" style="stroke-width:0.1px" text-anchor="end" transform="translate(581.38 277.80) rotate(-45)">98</text>
<text x="0" y="0" font-size="11" style="stroke-width:0.1px" text-anchor="end" transform="translate(593.06 277.80) rotate(-45)">140</text>
<text x="0" y="0" font-size="11" style="stroke-width:0.1px" text-anchor="end" transform="translate(604.74 277.80) rotate(-45)">126</text>
<text x="0" y="0" font-size="11" style="stroke-width:0.1px" text-anchor="end" transform="translate(616.42 277.80) rotate(-45)">145</text>
<text x="0" y="0" font-size="11" style="stroke-width:0.1px" text-anchor="end" transform="translate(628.10 277.80) rotate(-45)">152</text>
<text x="0" y="0" font-size="11" style="stroke-width:0.1px" text-anchor="end" transform="translate(639.78 277.80) rotate(-45)">91</text>
<text x="0" y="0" font-size="11" style="stroke-width:0.1px" text-anchor="end" transform="translate(651.46 277.80) rotate(-45)">136</text>
<text x="0" y="0" font-size="11" style="stroke-width:0.1px" text-anchor="end" transform="translate(663.14 277.80) rotate(-45)">115</text>
<text x="0" y="0" font-size="11" style="stroke-width:0.1px" text-anchor="end" transform="translate(674.82 277.80) rotate(-45)">141</text>
<text x="0" y="0" font-size="11" style="stroke-width:0.1px" text-anchor="end" transform="translate(686.50 277.80) rotate(-45)">134</text>
<text x="0" y="0" font-size="11" style="stroke-width:0.1px" text-anchor="end" transform="translate(698.18 277.80) rotate(-45)">138</text>
<text x="0" y="0" font-size="11" style="stroke-width:0.1px" text-anchor="end" transform="translate(709.86 277.80) rotate(-45)">108</text>
<text x="0" y="0" font-size="11" style="stroke-width:0.1px" text-anchor="end" transform="translate(721.54 277.80) rotate(-45)">158</text>
<text x="0" y="0" font-size="11" style="stroke-width:0.1px" text-anchor="end" transform="translate(733.22 277.80) rotate(-45)">84</text>
<text x="0" y="0" font-size="11" style="stroke-width:0.1px" text-anchor="end" transform="translate(744.90 277.80) rotate(-45)">149</text>
<text x="0" y="0" font-size="11" style="stroke-width:0.1px" text-anchor="end" transform="translate(756.58 277.80) rotate(-45)">100</text>
<text x="0" y="0" font-size="11" style="stroke-width:0.1px" text-anchor="end" transform="translate(768.26 277.80) rotate(-45)">163</text>
<path fill="#fff" stroke="#111" stroke-width="1.5" d="M456.93 252.00L460.08 249.10L463.23 252.00L460.08 254.90ZM468.61 261.00L471.76 258.10L474.91 261.00L471.76 263.90ZM480.29 250.00L483.44 247.10L486.59 250.00L483.44 252.90ZM491.97 243.00L495.12 240.10L498.27 243.00L495.12 245.90ZM503.65 248.00L506.80 245.10L509.95 248.00L506.80 250.90ZM515.33 253.00L518.48 250.10L521.63 253.00L518.48 255.90ZM527.01 236.90L530.16 234.00L533.31 236.90L530.16 239.80ZM538.69 232.10L541.84 229.20L544.99 232.10L541.84 235.00ZM550.37 211.60L553.52 208.70L556.67 211.60L553.52 214.50ZM562.05 221.00L565.20 218.10L568.35 221.00L565.20 223.90ZM573.73 226.00L576.88 223.10L580.03 226.00L576.88 228.90ZM585.41 246.20L588.56 243.30L591.71 246.20L588.56 249.10ZM597.09 221.00L600.24 218.10L603.39 221.00L600.24 223.90ZM608.77 208.30L611.92 205.40L615.07 208.30L611.92 211.20ZM620.45 187.20L623.60 184.30L626.75 187.20L623.60 190.10ZM632.13 205.50L635.28 202.60L638.43 205.50L635.28 208.40ZM643.81 196.00L646.96 193.10L650.11 196.00L646.96 198.90ZM655.49 204.00L658.64 201.10L661.79 204.00L658.64 206.90ZM667.17 180.20L670.32 177.30L673.47 180.20L670.32 183.10ZM678.85 156.00L682.00 153.10L685.15 156.00L682.00 158.90ZM690.53 155.50L693.68 152.60L696.83 155.50L693.68 158.40ZM702.21 138.30L705.36 135.40L708.51 138.30L705.36 141.20ZM713.89 140.00L717.04 137.10L720.19 140.00L717.04 142.90ZM725.57 116.30L728.72 113.40L731.87 116.30L728.72 119.20ZM737.25 115.60L740.40 112.70L743.55 115.60L740.40 118.50ZM748.93 113.60L752.08 110.70L755.23 113.60L752.08 116.50ZM760.61 49.70L763.76 46.80L766.91 49.70L763.76 52.60Z"/>
<path fill="#a88c8a" stroke="#140e0e" stroke-width="1.5" d="M456.98 264.60L460.08 259.40L463.18 264.60ZM468.66 259.60L471.76 254.40L474.86 259.60ZM480.34 255.80L483.44 250.60L486.54 255.80ZM492.02 254.30L495.12 249.10L498.22 254.30ZM503.70 244.60L506.80 239.40L509.90 244.60ZM515.38 244.60L518.48 239.40L521.58 244.60ZM538.74 241.10L541.84 235.90L544.94 241.10ZM550.42 224.60L553.52 219.40L556.62 224.60ZM562.10 224.40L565.20 219.20L568.30 224.40ZM573.78 220.90L576.88 215.70L579.98 220.90ZM585.46 219.10L588.56 213.90L591.66 219.10ZM597.14 216.60L600.24 211.40L603.34 216.60ZM608.82 216.60L611.92 211.40L615.02 216.60ZM620.50 214.60L623.60 209.40L626.70 214.60ZM632.18 209.60L635.28 204.40L638.38 209.60ZM643.86 207.60L646.96 202.40L650.06 207.60ZM655.54 203.60L658.64 198.40L661.74 203.60ZM667.22 172.40L670.32 167.20L673.42 172.40ZM678.90 159.60L682.00 154.40L685.10 159.60ZM690.58 155.10L693.68 149.90L696.78 155.10ZM702.26 145.40L705.36 140.20L708.46 145.40ZM713.94 135.60L717.04 130.40L720.14 135.60ZM725.62 110.40L728.72 105.20L731.82 110.40ZM737.30 102.00L740.40 96.80L743.50 102.00ZM748.98 92.60L752.08 87.40L755.18 92.60ZM760.66 34.90L763.76 29.70L766.86 34.90Z"/>
<path fill="#1f3048" stroke="#0a0f18" stroke-width="1.4" d="M456.93 260.50L460.08 257.60L463.23 260.50L460.08 263.40ZM468.61 261.50L471.76 258.60L474.91 261.50L471.76 264.40ZM480.29 249.20L483.44 246.30L486.59 249.20L483.44 252.10ZM491.97 242.80L495.12 239.90L498.27 242.80L495.12 245.70ZM503.65 248.40L506.80 245.50L509.95 248.40L506.80 251.30ZM515.33 253.60L518.48 250.70L521.63 253.60L518.48 256.50ZM527.01 242.10L530.16 239.20L533.31 242.10L530.16 245.00ZM538.69 241.10L541.84 238.20L544.99 241.10L541.84 244.00ZM550.37 226.60L553.52 223.70L556.67 226.60L553.52 229.50ZM562.05 220.50L565.20 217.60L568.35 220.50L565.20 223.40ZM573.73 226.50L576.88 223.60L580.03 226.50L576.88 229.40ZM585.41 249.60L588.56 246.70L591.71 249.60L588.56 252.50ZM597.09 221.70L600.24 218.80L603.39 221.70L600.24 224.60ZM608.77 220.70L611.92 217.80L615.07 220.70L611.92 223.60ZM620.45 211.40L623.60 208.50L626.75 211.40L623.60 214.30ZM632.13 215.30L635.28 212.40L638.43 215.30L635.28 218.20ZM643.81 209.30L646.96 206.40L650.11 209.30L646.96 212.20ZM655.49 211.70L658.64 208.80L661.79 211.70L658.64 214.60ZM667.17 182.40L670.32 179.50L673.47 182.40L670.32 185.30ZM678.85 165.50L682.00 162.60L685.15 165.50L682.00 168.40ZM690.53 177.20L693.68 174.30L696.83 177.20L693.68 180.10ZM702.21 162.80L705.36 159.90L708.51 162.80L705.36 165.70ZM713.89 135.70L717.04 132.80L720.19 135.70L717.04 138.60ZM725.57 123.30L728.72 120.40L731.87 123.30L728.72 126.20ZM737.25 129.00L740.40 126.10L743.55 129.00L740.40 131.90ZM748.93 113.60L752.08 110.70L755.23 113.60L752.08 116.50ZM760.61 58.60L763.76 55.70L766.91 58.60L763.76 61.50Z"/>
<path fill="#b09090" stroke="#1e1414" stroke-width="1.2" d="M483.90 41.80L486.50 37.40L489.10 41.80Z"/>
<path fill="#1f3048" stroke="#0a0f18" stroke-width="1.1" d="M482.90 57.80L486.50 54.20L490.10 57.80L486.50 61.40Z"/>
<path fill="#fff" stroke="#111" stroke-width="1.3" d="M483.40 77.70L486.50 74.60L489.60 77.70L486.50 80.80Z"/>
<text x="0" y="0" font-size="14.8" transform="translate(495.3 43.3) scale(1.14 1)">10-gene</text>
<text x="0" y="0" font-size="14.8" transform="translate(495.3 62.8) scale(1.14 1)">UCE-100best</text>
<text x="0" y="0" font-size="14.8" transform="translate(495.3 83) scale(1.14 1)">UCE-95%</text>
</svg></body></html>
